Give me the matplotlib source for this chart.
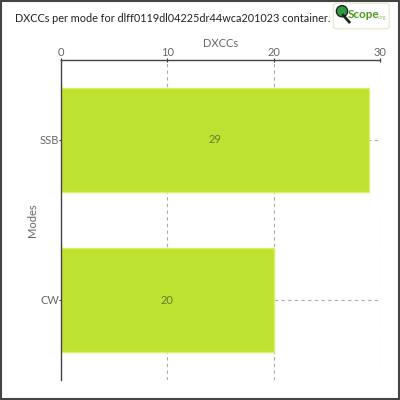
import matplotlib
matplotlib.use("Agg")
import matplotlib.pyplot as plt
from matplotlib.patches import Rectangle, FancyBboxPatch, Circle
from matplotlib.lines import Line2D

# data
modes = ["CW", "SSB"]
dxccs = [20, 29]
x_ticks = [0, 10, 20, 30]

plt.rcParams['font.family'] = ['Lato', 'DejaVu Sans']

fig = plt.figure(figsize=(4, 4), dpi=100)
ax = fig.add_axes([0.1525, 0.05, 0.7975, 0.8])

# bars behind the dashed grid
bars = ax.barh(modes, dxccs, height=0.65, color="#bde22f", edgecolor="#d8f06a",
               linewidth=1, zorder=2)
for bar, v in zip(bars, dxccs):
    ax.text(bar.get_width() / 2, bar.get_y() + bar.get_height() / 2, str(v),
            ha="center", va="center", fontsize=8, color="#6b7a3a", zorder=3)

ax.set_xlim(0, 30)
ax.set_ylim(-0.5, 1.5)
ax.set_xticks(x_ticks)
ax.xaxis.tick_top()
ax.xaxis.set_label_position("top")
ax.set_xlabel("DXCCs", fontsize=8, color="#666666", labelpad=0)
ax.set_ylabel("Modes", fontsize=8, color="#666666", labelpad=1)
ax.tick_params(axis="both", labelsize=8, labelcolor="#666666", color="#333333",
               length=3, width=0.8, direction="inout")
ax.tick_params(axis="x", pad=0)
ax.tick_params(axis="y", pad=0)

ax.grid(True, linestyle=(0, (3, 3)), color="#aaaaaa", linewidth=0.8, zorder=0)
ax.set_axisbelow(True)

for s in ["right", "bottom"]:
    ax.spines[s].set_visible(False)
for s in ["left", "top"]:
    ax.spines[s].set_color("#444444")
    ax.spines[s].set_linewidth(1)

# title
fig.text(0.431, 0.955, "DXCCs per mode for dlff0119dl04225dr44wca201023 container.",
         ha="center", va="center", fontsize=7.8, color="#222222")

# logo box in the top right
fig.patches.append(FancyBboxPatch((0.833, 0.928), 0.14, 0.064, boxstyle="round,pad=0,rounding_size=0.008",
                                  transform=fig.transFigure, facecolor="white",
                                  edgecolor="#e6e6c8", linewidth=0.8))
fig.lines.append(Line2D([0.858, 0.873], [0.962, 0.945], transform=fig.transFigure,
                        color="#222222", linewidth=2))
fig.patches.append(Circle((0.855, 0.972), 0.014, transform=fig.transFigure,
                          facecolor="#2e9a3e", edgecolor="#222222", linewidth=1))
fig.text(0.869, 0.965, "Scope", ha="left", va="center", fontsize=8.5, color="#4f9a1c",
         fontweight="bold")
fig.text(0.945, 0.955, ".org", ha="left", va="center", fontsize=3.5, color="#8fc060")

# outer frame
fig.patches.append(Rectangle((0.002, 0.002), 0.996, 0.996, transform=fig.transFigure,
                             fill=False, edgecolor="#444444", linewidth=1.5))

fig.savefig("out.png", dpi=100)
